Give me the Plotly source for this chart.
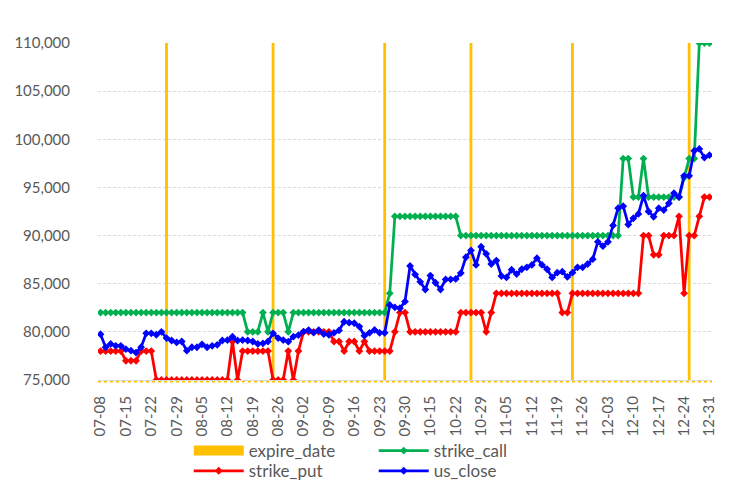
import plotly.graph_objects as go

tick_labels = ["07-08", "07-15", "07-22", "07-29", "08-05", "08-12", "08-19", "08-26",
               "09-02", "09-09", "09-16", "09-23", "09-30", "10-15", "10-22", "10-29",
               "11-05", "11-12", "11-19", "11-26", "12-03", "12-10", "12-17", "12-24", "12-31"]

strike_call = [
    82000, 82000, 82000, 82000, 82000, 82000, 82000, 82000, 82000, 82000,
    82000, 82000, 82000, 82000, 82000, 82000, 82000, 82000, 82000, 82000,
    82000, 82000, 82000, 82000, 82000, 82000, 82000, 82000, 82000, 80000,
    80000, 80000, 82000, 80000, 82000, 82000, 82000, 80000, 82000, 82000,
    82000, 82000, 82000, 82000, 82000, 82000, 82000, 82000, 82000, 82000,
    82000, 82000, 82000, 82000, 82000, 82000, 82000, 84000, 92000, 92000,
    92000, 92000, 92000, 92000, 92000, 92000, 92000, 92000, 92000, 92000,
    92000, 90000, 90000, 90000, 90000, 90000, 90000, 90000, 90000, 90000,
    90000, 90000, 90000, 90000, 90000, 90000, 90000, 90000, 90000, 90000,
    90000, 90000, 90000, 90000, 90000, 90000, 90000, 90000, 90000, 90000,
    90000, 90000, 90000, 98000, 98000, 94000, 94000, 98000, 94000, 94000,
    94000, 94000, 94000, 94000, 94000, 96000, 98000, 98000, 110000, 110000,
    110000]

strike_put = [
    78000, 78000, 78000, 78000, 78000, 77000, 77000, 77000, 78000, 78000,
    78000, 75000, 75000, 75000, 75000, 75000, 75000, 75000, 75000, 75000,
    75000, 75000, 75000, 75000, 75000, 75000, 79000, 75000, 78000, 78000,
    78000, 78000, 78000, 78000, 75000, 75000, 75000, 78000, 75000, 78000,
    80000, 80000, 80000, 80000, 80000, 80000, 79000, 79000, 78000, 79000,
    79000, 78000, 79000, 78000, 78000, 78000, 78000, 78000, 80000, 82000,
    82000, 80000, 80000, 80000, 80000, 80000, 80000, 80000, 80000, 80000,
    80000, 82000, 82000, 82000, 82000, 82000, 80000, 82000, 84000, 84000,
    84000, 84000, 84000, 84000, 84000, 84000, 84000, 84000, 84000, 84000,
    84000, 82000, 82000, 84000, 84000, 84000, 84000, 84000, 84000, 84000,
    84000, 84000, 84000, 84000, 84000, 84000, 84000, 90000, 90000, 88000,
    88000, 90000, 90000, 90000, 92000, 84000, 90000, 90000, 92000, 94000,
    94000]

us_close = [
    79750, 78400, 78750, 78550, 78550, 78200, 78050, 77850, 78400, 79850,
    79850, 79700, 80000, 79350, 79100, 78900, 79000, 78050, 78400, 78400,
    78700, 78400, 78550, 78650, 79100, 79150, 79500, 79100, 79150, 79100,
    79000, 78750, 78800, 79000, 79850, 79350, 79150, 78980, 79500, 79670,
    80020, 80190, 79920, 80190, 79780, 79700, 79900, 80150, 81050, 80950,
    80900, 80550, 79600, 79900, 80200, 79900, 79900, 82800, 82550, 82450,
    83150, 86850, 85950, 85200, 84400, 85850, 85100, 84400, 85450, 85450,
    85500, 86100, 87750, 88450, 86950, 88850, 88100, 87050, 87400, 85800,
    85650, 86450, 86000, 86500, 86700, 86950, 87650, 86950, 86500, 85650,
    86150, 86250, 85700, 86150, 86700, 86700, 87050, 87550, 89350, 88900,
    89350, 91050, 92850, 93050, 91150, 91800, 92250, 94150, 92500, 91950,
    92850, 92650, 93350, 94400, 94000, 96200, 96200, 98800, 99000, 98100,
    98350]

expire_days = [13, 34, 56, 73, 93, 116]
expire_value = 110000

y_min, y_max, y_step = 75000, 110000, 5000

FONT = "Lato, 'Liberation Sans', sans-serif"
GREY_TXT = "#595959"
YELLOW, GREEN, RED, BLUE = "#FFC000", "#00B050", "#FF0000", "#0000FF"

idx = list(range(len(us_close)))
tick_pos = list(range(0, len(us_close), 5))

fig = go.Figure()
fig.add_trace(go.Bar(x=expire_days, y=[expire_value] * len(expire_days), name="expire_date",
                     marker=dict(color=YELLOW, line=dict(width=0)), width=0.55,
                     showlegend=False, legendgroup="exp"))
# legend swatch for the column series (wide rectangle like the original)
fig.add_trace(go.Scatter(x=[None], y=[None], name="expire_date", mode="lines",
                         line=dict(color=YELLOW, width=10), legendgroup="exp",
                         legend="legend"))
fig.add_trace(go.Scatter(x=idx, y=strike_call, name="strike_call", mode="lines+markers",
                         line=dict(color=GREEN, width=2.75),
                         marker=dict(symbol="diamond", size=6, color=GREEN),
                         legend="legend"))
fig.add_trace(go.Scatter(x=idx, y=strike_put, name="strike_put", mode="lines+markers",
                         line=dict(color=RED, width=2.75),
                         marker=dict(symbol="diamond", size=6, color=RED),
                         legend="legend2"))
fig.add_trace(go.Scatter(x=idx, y=us_close, name="us_close", mode="lines+markers",
                         line=dict(color=BLUE, width=2.75),
                         marker=dict(symbol="diamond", size=6, color=BLUE),
                         legend="legend2"))

leg_common = dict(orientation="h", xref="container", yref="container",
                  x=0.2486, xanchor="left", yanchor="middle",
                  entrywidth=120, entrywidthmode="pixels", itemwidth=50,
                  font=dict(family=FONT, size=17, color=GREY_TXT),
                  bgcolor="rgba(0,0,0,0)")

fig.update_layout(
    width=727, height=481, autosize=False,
    margin=dict(l=89.5, r=22.5, t=35, b=109, autoexpand=False),
    paper_bgcolor="white", plot_bgcolor="white",
    font=dict(family=FONT, size=15, color=GREY_TXT),
    showlegend=True,
    legend=dict(leg_common, y=0.079),
    legend2=dict(leg_common, y=0.037),
    bargap=0.5,
    shapes=[dict(type="line", xref="paper", yref="paper", x0=0, x1=1, y0=-0.005, y1=-0.005,
                 line=dict(color=YELLOW, width=1.5, dash="dot"), layer="below")],
)
fig.update_xaxes(range=[-0.5, len(us_close) - 0.5], tickmode="array", tickvals=tick_pos,
                 ticktext=tick_labels, tickangle=-90, showgrid=False, zeroline=False,
                 showline=True, linecolor="#D9D9D9", linewidth=1, automargin=False,
                 ticks="outside", ticklen=9, tickcolor="rgba(0,0,0,0)",
                 tickfont=dict(family=FONT, size=15, color=GREY_TXT))
fig.update_yaxes(range=[y_min, y_max], dtick=y_step, tick0=y_min, tickformat=",d",
                 showgrid=True, gridcolor="#D9D9D9", griddash="3px,2px", gridwidth=1.2,
                 zeroline=False, showline=False, automargin=False,
                 ticks="outside", ticklen=24, tickcolor="rgba(0,0,0,0)",
                 tickfont=dict(family=FONT, size=15, color=GREY_TXT))

fig.write_html("out.html")
